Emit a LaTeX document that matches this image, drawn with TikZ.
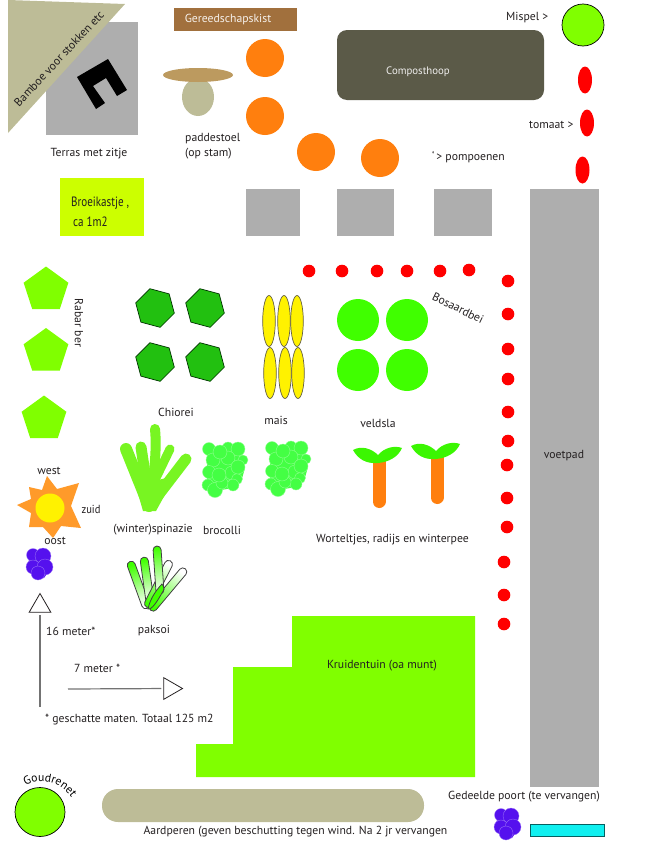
\documentclass[tikz,border=0pt]{standalone}
\usepackage{fontspec}
\setmainfont{PT Sans}
\usetikzlibrary{shapes.geometric,decorations.text}
\definecolor{khaki}{HTML}{BDBC97}
\definecolor{paving}{HTML}{AEAEAE}
\definecolor{chest}{HTML}{A1703D}
\definecolor{pumpkin}{HTML}{FF7F0E}
\definecolor{mushcap}{HTML}{BC9A5F}
\definecolor{compost}{HTML}{5B5A48}
\definecolor{lime}{HTML}{80FF00}
\definecolor{glasshouse}{HTML}{CCFF00}
\definecolor{chicory}{HTML}{22C010}
\definecolor{lettuce}{HTML}{40FF00}
\definecolor{spinach}{HTML}{78F522}
\definecolor{broccoli}{HTML}{44FF44}
\definecolor{grape}{HTML}{5511EE}
\definecolor{sunray}{HTML}{FF9A2A}
\definecolor{inktext}{HTML}{231F20}
\definecolor{gatecol}{HTML}{10F0F0}
\tikzset{
	lbl/.style={font=\fontsize{11.7}{15}\selectfont,text=inktext,inner sep=0pt},
	rabarber/.style={regular polygon,regular polygon sides=5,minimum size=47,inner sep=0pt,fill=lime},
	chiorei/.style={regular polygon,regular polygon sides=6,minimum size=40,inner sep=0pt,fill=chicory,draw=black!80!green,line width=0.7pt,shape border rotate=-15},
	arrowtri/.style={regular polygon,regular polygon sides=3,inner sep=0pt,outer sep=2.5pt,minimum size=25,draw=inktext,line width=0.8pt},
	dimline/.style={draw=black!55,line width=1.2pt},
	paksoileaf/.style={draw=black!75,line width=0.8pt,rounded corners=3.9pt}
}
\newcommand{\grapes}[2]{
	\begin{scope}[shift={(#1,#2)}]
		\fill[grape] (30,552) -- (48,552) -- (51,568) -- (44,578) -- (34,578) -- (28,566) -- cycle;
		\foreach \x/\y/\r in {33/555/6.5,43/556/8,33/567/7,45/567/8,38/573/7}
			\draw[fill=grape,draw=grape!55!white,line width=0.3pt] (\x,\y) circle (\r);
	\end{scope}
}
\newcommand{\broccolihead}[2]{
	\begin{scope}[shift={(#1,#2)}]
		\fill[broccoli] (12,20) -- (46,18) -- (50,38) -- (46,52) -- (38,58) -- (26,60) -- (20,64) -- (12,55) -- cycle;
		\foreach \x/\y/\r in {14/19/6.5,33/18/6,43/19/7,18/30/7,33/28/7,48/30/5,14/42/6.5,37/43/7,42/49/5.5,13/55/6,20/60/7.5,38/55/6,27/53/6,25/22/7,43/37/7,24/45/7}
			\draw[fill=broccoli,draw=broccoli!60!white,line width=0.4pt] (\x,\y) circle (\r);
	\end{scope}
}

\begin{document}
\begin{tikzpicture}[x=1pt,y=-1pt]
	\useasboundingbox (0,0) rectangle (650,846);

	\fill[paving] (46,22) rectangle (138,135);
	\fill[black] (77,77) -- (108,59) -- (127,90) -- (117,96) -- (106,78) -- (93,86) -- (105,103) -- (96,109) -- cycle;
	\fill[khaki] (8,0) -- (125,4) -- (8,133) -- cycle;
	\node[lbl,rotate=47] (bamboe) at (59,58.5) {Bamboe voor stokken etc};
	\node[lbl] (terras) at (89,153.5) {Terras met zitje};

	\fill[chest] (174,8) rectangle (297,31);
	\node[lbl,text=white!90!chest] (kist) at (228,20) {Gereedschapskist};

	\fill[khaki] (198,97) ellipse (16 and 19);
	\fill[mushcap] (198,75) ellipse (35 and 7);
	\node[lbl,align=left,anchor=north west] (paddestoel) at (185,133) {paddestoel\\(op stam)};

	\foreach \x/\y in {265/58,265/116,316/152,380/158}
		\fill[pumpkin] (\x,\y) circle (19);
	\node[lbl,anchor=west] (pompoenen) at (432,157) {`\,> pompoenen};

	\fill[compost,rounded corners=10pt] (337,30) rectangle (544,100);
	\node[lbl,font=\fontsize{10.8}{13}\selectfont,text=white!90!compost] (compost) at (418,72) {Composthoop};

	\node[lbl,anchor=west] (mispeltext) at (506,18) {Mispel >};
	\draw[fill=lime,line width=0.7pt] (583,25) circle (21);
	\node[lbl,anchor=west] (tomaat) at (529,125) {tomaat >};
	\foreach \x/\y in {585/80,587/123,582.5/170}
		\fill[red] (\x,\y) ellipse (7 and 13.5);

	\fill[glasshouse] (60,178) rectangle (144,236);
	\node[lbl,anchor=west,font=\fontsize{13.5}{16}\selectfont,xscale=0.82] (broeikast) at (71,203) {Broeikastje ,};
	\node[lbl,anchor=west,font=\fontsize{13.5}{16}\selectfont,xscale=0.82] (oppervlak) at (73,222) {ca 1m2};

	\fill[paving] (246,189) rectangle (300,236);
	\fill[paving] (337,189) rectangle (394,236);
	\fill[paving] (434,189) rectangle (492,236);
	\fill[paving] (530,189) rectangle (599,787);
	\node[lbl] (voetpad) at (564,455.5) {voetpad};

	\node[rabarber] (rabarber1) at (46,290) {};
	\node[rabarber] (rabarber2) at (46,351.5) {};
	\node[rabarber] (rabarber3) at (44,419) {};
	\node[lbl,rotate=-90] (rabartext) at (79,323) {Rabar ber};

	\node[chiorei] (chiorei1) at (155,308) {};
	\node[chiorei] (chiorei2) at (205,308) {};
	\node[chiorei] (chiorei3) at (155,362) {};
	\node[chiorei] (chiorei4) at (205,362) {};
	\node[lbl] (chioreitext) at (176,412) {Chiorei};

	\foreach \x/\y in {269/321,284/321,297/321,270/373,285/373,298/373}
		\draw[fill=yellow,draw=black!70!yellow,line width=0.7pt] (\x,\y) ellipse (6.3 and 25.5);
	\node[lbl] (mais) at (276,420) {mais};

	\foreach \x/\y in {358/320,407/320,358/370,407/370}
		\fill[lettuce] (\x,\y) circle (21);
	\node[lbl] (veldsla) at (378,423) {veldsla};

	\foreach \x/\y in {309/271,342/271,377/271,407/271,440/271,469/270,508/281,508/314,508/349,508/379,508/412,508/441,507/465,507/498,507/527,504/562,504/595,504/624}
		\fill[red] (\x,\y) circle (6.3);
	\node[lbl,rotate=-26] (bosaardbei) at (458,308) {Bosaardbei};

	% wortels
	\foreach \dx/\dy in {0/0,58/-4}{
		\begin{scope}[shift={(\dx,\dy)}]
			\draw[pumpkin,line width=13pt,line cap=round] (379,462) -- (379,501.5);
			\fill[lettuce!85!chicory] (353,450) .. controls (362,445) and (372,449) .. (378,455) .. controls (384,448) and (394,445) .. (402,448) .. controls (398,457) and (389,462) .. (378,463) .. controls (366,464) and (358,459) .. (353,450) -- cycle;
		\end{scope}
	}
	\node[lbl,anchor=west] (worteltjes) at (316,539.5) {Worteltjes, radijs en winterpee};

	% spinazie
	\fill[spinach] (126,452) -- (141,483) -- (148,490) -- (158,480) -- (166,478) -- (183,462) -- (156,511) -- (143,511) -- cycle;
	\draw[spinach,line width=12pt,line cap=round] (149,506) -- (126,449);
	\draw[spinach,line width=11pt,line cap=round] (149,500) -- (141,447);
	\draw[spinach,line width=10pt,line cap=round] (152,490) .. controls (154,470) and (157,450) .. (155,429);
	\draw[spinach,line width=9pt,line cap=round] (155,480) -- (170,449);
	\draw[spinach,line width=11pt,line cap=round] (150,506) -- (186,459);
	\node[lbl] (spinazie) at (153,530) {(winter)spinazie};

	\broccolihead{195}{430}
	\broccolihead{258}{429}
	\node[lbl] (brocolli) at (222,530) {brocolli};

	% paksoi
	\draw[paksoileaf,top color=lettuce,middle color=lettuce!70!white,bottom color=white,shading angle=20,rotate around={110:(138.5,585)}] (113.5,581) rectangle (163.5,589);
	\draw[paksoileaf,top color=lettuce,middle color=lettuce!70!white,bottom color=white,shading angle=8,rotate around={98:(147,580)}] (124,576) rectangle (170,584);
	\draw[paksoileaf,top color=white,middle color=white,bottom color=lettuce,shading angle=-27,rotate around={63:(158.5,584)}] (132.5,580) rectangle (184.5,588);
	\draw[paksoileaf,top color=white,middle color=white,bottom color=lettuce,shading angle=-40,rotate around={50:(168,589.5)}] (141,585.5) rectangle (195,593.5);
	\draw[paksoileaf,top color=lettuce,middle color=lettuce!80!white,bottom color=white,shading angle=4,rotate around={94:(158.5,570)}] (134.5,566) rectangle (182.5,574);
	\draw[paksoileaf,rounded corners=0pt,fill=lettuce] (148,609) .. controls (150,598) and (158,588) .. (162,584) .. controls (165,588) and (164,590) .. (162,593) .. controls (158,600) and (152,610) .. (148,609) -- cycle;
	\node[lbl] (paksoi) at (154,630.5) {paksoi};

	% zon
	\fill[sunray] (47,476) -- (57,489) -- (79,483) -- (71,506) -- (81,528) -- (61,526) -- (53,538) -- (43,527) -- (29,527) -- (31,513) -- (17,505) -- (31,499) -- (29,487) -- (42,490) -- cycle;
	\fill[yellow] (50,508) circle (14.5);
	\node[lbl] (west) at (49,471) {west};
	\node[lbl,xscale=0.9] (zuid) at (91,509) {zuid};
	\node[lbl] (oost) at (55,541) {oost};

	\grapes{0}{0}
	\grapes{468}{260}

	% maten
	\node[arrowtri] (noord) at (40,606) {};
	\node[arrowtri,shape border rotate=-90] (oostpijl) at (170,688.5) {};
	\coordinate (noordvoet) at (40,707);
	\coordinate (oostvoet) at (68,689);
	\draw[dimline] (noordvoet) -- (noord);
	\draw[dimline] (oostvoet) -- (oostpijl);
	\node[lbl,anchor=west] (zestien) at (46,631) {16 meter*};
	\node[lbl,anchor=west] (zeven) at (74,668) {7 meter *};
	\node[lbl,anchor=west] (geschat) at (45,719.5) {* geschatte maten. Totaal 125 m2};

	\fill[lime] (292,616) -- (475,616) -- (475,777) -- (196,777) -- (196,744) -- (233,744) -- (233,667) -- (292,667) -- cycle;
	\node[lbl] (kruidentuin) at (382,665.5) {Kruidentuin (oa munt)};

	\draw[fill=lime,line width=0.7pt] (40,812) ellipse (25 and 24.5);
	\path[postaction={decorate},decoration={text along path,text align=center,text={|\fontsize{11.7}{15}\selectfont|Goudrenet}}] (23,787) .. controls (38,776) and (62,781) .. (73,800);

	\fill[khaki,rounded corners=16pt] (102,789) rectangle (424,822);
	\node[lbl] (aardperen) at (295.5,831.5) {Aardperen (geven beschutting tegen wind. Na 2 jr vervangen};

	\node[lbl] (poort) at (524,797) {Gedeelde poort (te vervangen)};
	\draw[fill=gatecol,draw=black!60!gatecol,line width=0.8pt] (530,824) rectangle (604,836);
\end{tikzpicture}
\end{document}
